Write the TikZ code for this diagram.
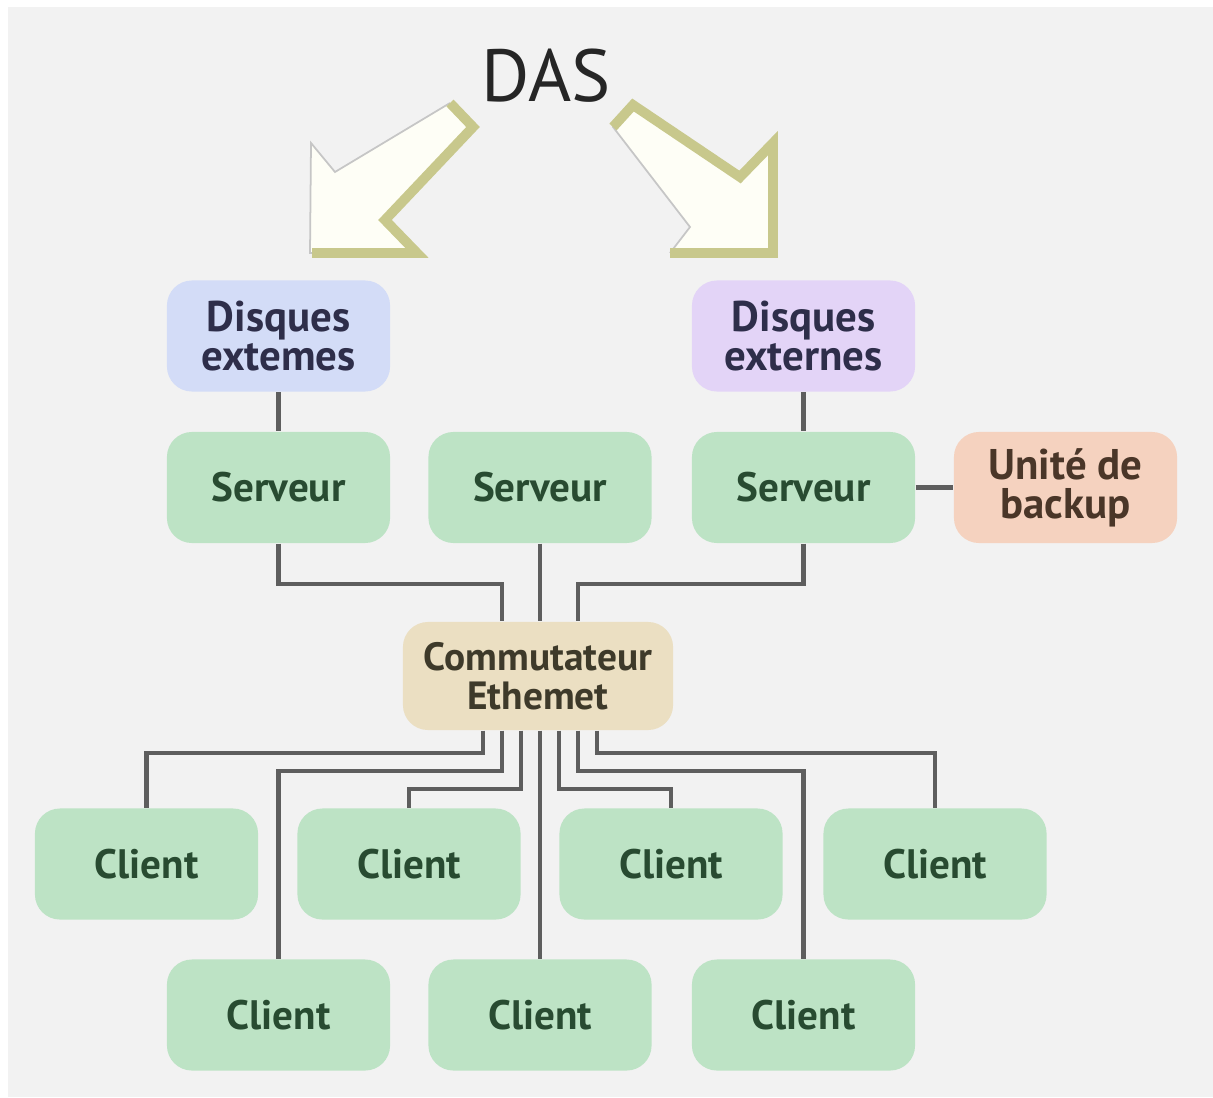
\documentclass[tikz,border=0pt]{standalone}
\usepackage{fontspec}
\setmainfont{PT Sans}
\usepackage{xcolor}
\usetikzlibrary{calc}

\definecolor{bggray}{HTML}{F2F2F2}
\definecolor{srvgreen}{HTML}{BDE3C5}
\definecolor{diskblue}{HTML}{D3DCF7}
\definecolor{diskviolet}{HTML}{E3D4F7}
\definecolor{backuppeach}{HTML}{F5D2BF}
\definecolor{switchtan}{HTML}{EBDFC2}
\definecolor{wiregray}{HTML}{5E5E5E}
\definecolor{arrowolive}{HTML}{C8C88C}
\definecolor{arrowfill}{HTML}{FEFEF6}
\definecolor{txtgreen}{HTML}{284B31}
\definecolor{txtnavy}{HTML}{2E2E4A}
\definecolor{txtbrown}{HTML}{4A3628}
\definecolor{txtolive}{HTML}{3E3A2A}

\tikzset{
	box/.style={rounded corners=0.25cm, minimum width=2.23cm, minimum height=1.11cm,
		align=center, inner sep=0pt, font=\fontsize{11.7}{11}\selectfont\bfseries},
	srvbox/.style={box, fill=srvgreen, text=txtgreen},
	diskbox/.style={box, text=txtnavy, font=\fontsize{12.2}{11}\selectfont\bfseries},
	wire/.style={draw=wiregray, line width=1.15pt},
	olive/.style={draw=arrowolive, line width=2.8pt, line join=miter},
	thinedge/.style={draw=gray!45, line width=0.5pt},
}

\begin{document}
\begin{tikzpicture}[x=0.01cm, y=-0.01cm]
		\useasboundingbox[fill=white] (0,0) rectangle (1213,1097);
		\fill[bggray] (8,7) rectangle (1213,1097);

		\node[font=\fontsize{21}{21}\selectfont, text=black!85] (das) at (546,76) {DAS};

		% arrows
		\fill[arrowfill] (450,103) -- (473,127) -- (385,220) -- (417,253) -- (310,253) -- (311,143) -- (335,172) -- cycle;
		\draw[thinedge] (417,253) -- (310,253) -- (311,143) -- (335,172) -- (450,103);
		\draw[olive] (450,103) -- (473,127) -- (385,220) -- (417,253) -- (312,253);
		\fill[arrowfill] (633,105) -- (740,177) -- (773,143) -- (773,253) -- (670,253) -- (690,227) -- (613,127) -- cycle;
		\draw[thinedge] (670,253) -- (690,227) -- (613,127) -- (633,105);
		\draw[olive] (613,127) -- (633,105) -- (740,177) -- (773,143) -- (773,253) -- (670,253);

		\node[diskbox, fill=diskblue] (dl) at (278.5,336) {Disques\\extemes};
		\node[diskbox, fill=diskviolet] (dr) at (803.5,336) {Disques\\externes};
		\node[srvbox] (sl) at (278.5,487.5) {Serveur};
		\node[srvbox] (sm) at (540,487.5) {Serveur};
		\node[srvbox] (sr) at (803.5,487.5) {Serveur};
		\node[diskbox, fill=backuppeach, text=txtbrown] (bk) at (1065.5,487.5) {Unité de\\backup};
		\node[diskbox, fill=switchtan, text=txtolive, font=\fontsize{11.2}{11}\selectfont\bfseries,
			minimum width=2.7cm, minimum height=1.08cm] (sw) at (538,676) {Commutateur\\Ethemet};

		\node[srvbox] (c1) at (146.5,864) {Client};
		\node[srvbox] (c2) at (409,864) {Client};
		\node[srvbox] (c3) at (671,864) {Client};
		\node[srvbox] (c4) at (935,864) {Client};
		\node[srvbox] (c5) at (278.5,1015) {Client};
		\node[srvbox] (c6) at (540,1015) {Client};
		\node[srvbox] (c7) at (803.5,1015) {Client};

		\draw[wire] (dl) -- (sl);
		\draw[wire] (dr) -- (sr);
		\draw[wire] (sr) -- (bk);
		\draw[wire] (sl.south) -- ++(0,40) -| ([xshift=-0.36cm]sw.north);
		\draw[wire] (sm.south) -- (sm.south |- sw.north);
		\draw[wire] (sr.south) -- ++(0,40) -| ([xshift=0.40cm]sw.north);

		\draw[wire] ([xshift=-0.55cm]sw.south) -- ++(0,22) -| (c1.north);
		\draw[wire] ([xshift=-0.36cm]sw.south) -- ++(0,40) -| (c5.north);
		\draw[wire] ([xshift=-0.17cm]sw.south) -- ++(0,58) -| (c2.north);
		\draw[wire] (c6.north |- sw.south) -- (c6.north);
		\draw[wire] ([xshift=0.21cm]sw.south) -- ++(0,58) -| (c3.north);
		\draw[wire] ([xshift=0.40cm]sw.south) -- ++(0,40) -| (c7.north);
		\draw[wire] ([xshift=0.59cm]sw.south) -- ++(0,22) -| (c4.north);
	\end{tikzpicture}
\end{document}
